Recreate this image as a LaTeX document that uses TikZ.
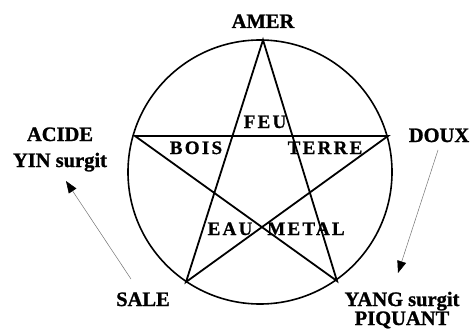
\documentclass[tikz,border=0pt]{standalone}
\usepackage{fontspec}
\setmainfont{Liberation Serif}
\usetikzlibrary{arrows.meta}
\newfontfamily\outerfont[FakeBold=1.2]{Liberation Serif Bold}
\newfontfamily\innerfont[LetterSpace=12,FakeBold=1]{Liberation Serif Bold}
\tikzset{
  mainlabel/.style={inner sep=0pt, anchor=base, font=\outerfont\fontsize{20.5}{22}\selectfont, align=center},
  innerlabel/.style={inner sep=0pt, anchor=base, font=\innerfont\fontsize{19}{21}\selectfont},
  starline/.style={line width=1.8pt, line join=miter},
  ringline/.style={line width=1.6pt},
  pointer/.style={draw=black!55, line width=0.5pt, -{Triangle[length=12pt,width=9pt,color=black,fill=black]}}
}
\begin{document}
\begin{tikzpicture}[x=1pt,y=-1pt]
\useasboundingbox (0,0) rectangle (473,329);
% circle
\draw[ringline] (260,172) circle[radius=132];
% star vertices
\coordinate (T) at (263,40);
\coordinate (L) at (135,136);
\coordinate (R) at (388,136);
\coordinate (BL) at (186,282);
\coordinate (BR) at (337,281);
\draw[starline] (T) -- (BL) -- (R) -- (L) -- (BR) -- cycle;
% outer labels
\node[mainlabel] (amer) at (263,28) {AMER};
\node[mainlabel] (acide) at (60,141) {ACIDE};
\node[mainlabel] (yin) at (60,167) {YIN surgit};
\node[mainlabel] (doux) at (439,142) {DOUX};
\node[mainlabel] (sale) at (143,306) {SALE};
\node[mainlabel] (yang) at (402,306) {YANG surgit};
\node[mainlabel] (piquant) at (402,325) {PIQUANT};
% inner labels
\node[innerlabel] (feu) at (265,128) {FEU};
\node[innerlabel] (bois) at (196,154) {BOIS};
\node[innerlabel] (terre) at (325,154) {TERRE};
\node[innerlabel] (eau) at (230,235) {EAU};
\node[innerlabel] (metal) at (306,235) {METAL};
% arrows
\coordinate (r1) at (438,150);
\coordinate (r2) at (398,273);
\coordinate (l1) at (131,279);
\coordinate (l2) at (66,181);
\draw[pointer] (r1) -- (r2);
\draw[pointer] (l1) -- (l2);
\end{tikzpicture}
\end{document}
